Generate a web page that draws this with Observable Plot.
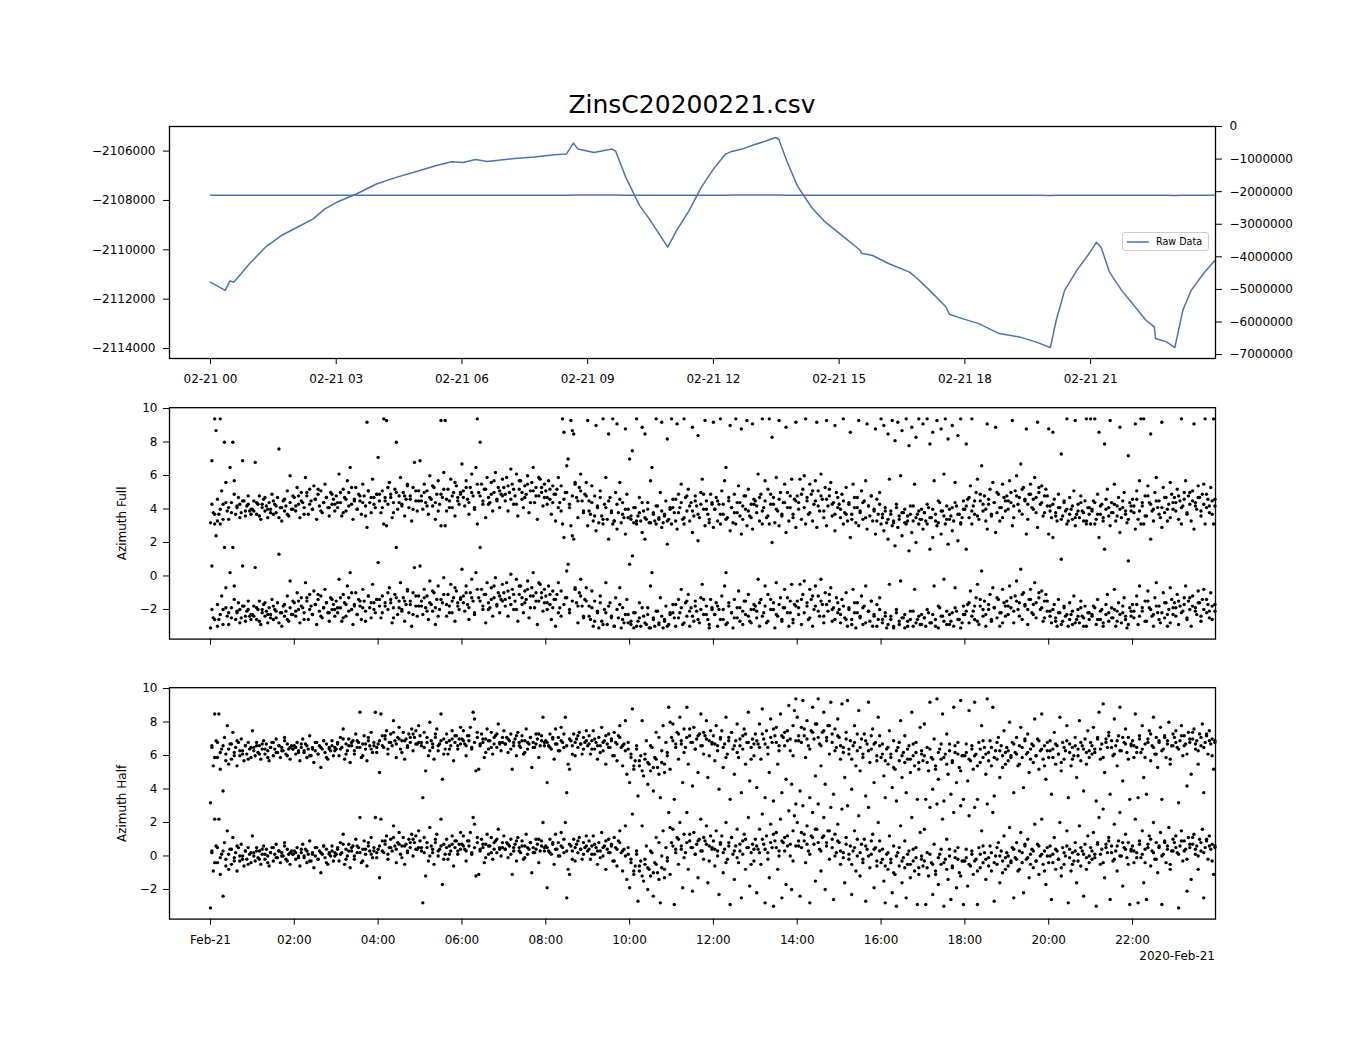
<!DOCTYPE html>
<html><head><meta charset="utf-8">
<script src="https://cdn.jsdelivr.net/npm/d3@7"></script>
<script src="https://cdn.jsdelivr.net/npm/@observablehq/plot@0.6"></script>
<style>
body{margin:0;background:#fff;font-family:"DejaVu Sans",sans-serif;color:#000;}
#wrap{position:relative;width:1350px;height:1050px;overflow:hidden;}
.abs{position:absolute;}
</style></head><body><div id="wrap"></div>
<script>
// ---------- data ----------
const titleText = "ZinsC20200221.csv";
const rawHours = [0,0.35,0.46,0.56,0.93,1.31,1.69,2.07,2.45,2.73,3.01,3.48,3.96,4.43,4.90,5.37,5.75,6.03,6.32,6.60,7.26,7.73,8.21,8.49,8.66,8.77,9.15,9.58,9.67,9.91,10.24,10.47,10.91,11.12,11.42,11.71,12.0,12.29,12.44,12.68,12.97,13.27,13.48,13.56,13.75,14.0,14.34,14.63,15.02,15.51,15.53,15.80,16.19,16.68,16.87,17.16,17.55,17.63,17.94,18.33,18.82,19.30,19.69,20.04,20.18,20.38,20.67,20.96,21.14,21.25,21.45,21.74,22.03,22.32,22.52,22.55,22.81,23.01,23.20,23.40,23.69,23.98];
const rawValues = [-2111306,-2111643,-2111266,-2111306,-2110566,-2109892,-2109421,-2109084,-2108747,-2108343,-2108074,-2107737,-2107333,-2107064,-2106835,-2106593,-2106431,-2106458,-2106337,-2106418,-2106296,-2106242,-2106148,-2106121,-2105677,-2105919,-2106054,-2105919,-2106013,-2107064,-2108209,-2108747,-2109892,-2109219,-2108411,-2107468,-2106727,-2106121,-2106013,-2105919,-2105744,-2105582,-2105448,-2105520,-2106391,-2107400,-2108276,-2108815,-2109354,-2110027,-2110135,-2110229,-2110566,-2110902,-2111172,-2111643,-2112316,-2112613,-2112788,-2112990,-2113394,-2113529,-2113731,-2113960,-2112855,-2111643,-2110835,-2110162,-2109690,-2109892,-2110902,-2111643,-2112249,-2112855,-2113125,-2113596,-2113731,-2113960,-2112451,-2111643,-2110970,-2110400];

// Azimuth Full: wrapped angle per hour (shown at b and b + 2π)
const fullByHour = [
[-3.1,0.6,-2.5,3.1,2.4,-3.0,-2.6,3.1,-1.2,-2.0,1.7,-0.7,-2.4,-2.9,0.2,-1.9,1.7,-0.6,-2.6,-2.2,-1.6,-2.0,-2.5,0.6,-1.8,-2.7,-2.1,-1.5,-2.4,-2.3],
[-2.3,-1.8,0.5,-2.6,-2.0,-1.5,-2.9,-2.2,-1.7,-2.4,-2.1,-2.8,-1.9,-2.3,-1.4,-2.6,-2.0,-2.5,-1.6,1.3,-2.2,-3.0,-1.8,-2.4,-2.1,-1.2,-2.7,-0.3,-2.3,-1.5],
[-1.6,-2.4,-1.0,-2.0,-2.8,-1.3,-1.9,-2.2,-0.4,-1.5,-2.6,-1.1,-1.8,-2.3,-0.9,-1.7,-2.9,-1.4,-2.1,-1.2,-2.5,-1.9,-0.8,-1.6,-2.2,-2.7,-1.3,-2.0,-1.7,-2.4],
[-1.5,-2.2,-0.2,-1.9,-2.7,-1.1,-1.6,-2.4,-0.6,-1.3,0.2,-2.0,-2.9,-1.7,-1.0,-2.3,-1.4,-1.8,-2.6,-0.8,-1.5,-2.1,2.9,-1.2,-1.9,-2.5,-0.5,-1.6,-2.2,-1.4],
[0.8,-1.8,-2.5,-1.2,3.1,-1.6,3.0,-2.0,-0.7,-1.4,-2.8,-1.9,-1.1,1.7,-2.3,-1.5,-0.4,-2.0,-1.3,-2.7,-1.7,-0.9,-2.2,-1.5,-3.0,-1.0,0.5,-1.8,-2.4,-1.2],
[0.6,-1.5,-2.3,-0.8,-1.9,-1.2,-2.6,-0.3,-1.7,-2.1,-1.0,-2.9,-1.4,-0.6,-2.0,3.0,-1.6,-0.1,3.0,-2.4,-1.1,-1.8,-0.5,-2.2,-1.3,-2.7,-0.9,-1.6,-2.0,-1.4],
[0.4,-1.2,-2.1,-0.6,-1.7,-2.6,-1.0,-0.2,-1.5,-2.3,0.2,3.1,-1.3,1.7,-0.8,-2.0,-1.1,-2.8,-0.4,-1.6,-1.9,-0.7,-2.4,-1.3,-0.1,-1.8,-1.0,-2.2,-1.4,-0.5],
[-1.0,-1.8,-0.4,-2.4,-1.3,0.1,-0.8,-2.0,-1.5,-0.2,-2.7,-1.1,-0.6,-1.7,-2.2,-0.9,-1.4,-0.3,-2.5,-1.2,-0.7,0.2,-1.9,-1.0,-2.9,-1.5,-0.5,-1.3,-2.1,-0.8],
[-1.2,-2.0,-0.6,-1.7,-2.6,-0.9,-1.4,-3.0,-1.1,-0.4,-1.9,-2.4,3.1,2.3,-1.3,0.3,0.7,-2.2,3.0,2.4,2.2,-0.8,-1.6,-2.8,-1.0,-0.2,-1.8,-2.5,-1.4,-0.7],
[3.0,-1.8,-2.6,-0.9,-3.0,-1.5,2.7,-2.2,-3.1,-1.2,-2.7,3.1,-2.0,-0.4,-2.9,2.2,-1.6,-2.4,3.1,-3.0,-1.3,2.8,-2.5,-0.7,-3.1,-1.9,-2.8,2.5,-1.4,-2.3],
[0.7,-2.9,1.2,-3.1,-2.2,3.1,-2.7,-1.6,-3.0,2.6,-2.4,2.2,-2.9,-1.9,-3.1,-0.6,0.2,-2.5,-3.0,3.1,-2.1,-2.8,-1.3,2.9,-3.1,-2.6,-1.8,1.9,-2.9,-2.3],
[3.1,-1.7,-2.5,-3.0,2.8,-1.4,-2.2,-0.8,-2.9,3.1,-1.6,-2.4,-1.1,-3.0,-1.9,2.6,-2.7,-1.5,-2.1,2.1,-2.8,-1.3,-0.5,-2.3,3.0,-1.8,-2.6,-3.1,-1.4,-2.0],
[2.9,-2.3,-1.6,-3.0,-2.0,3.1,-1.2,-2.6,-0.6,0.2,-2.8,-1.8,2.7,-2.2,-3.1,-1.4,3.1,-2.5,-0.9,-1.9,2.5,-2.9,-1.5,-2.3,3.0,-1.1,-2.7,-2.0,2.8,-1.7],
[-1.8,-2.5,-0.2,-3.0,-1.4,3.1,-2.2,-0.6,-2.8,-1.1,3.1,-2.0,2.0,-1.6,-3.1,-0.4,-2.4,3.0,-1.3,-2.7,-1.9,-0.8,2.6,-2.2,-3.0,-1.5,-0.5,-2.6,-1.7,2.9],
[-1.5,-2.3,-0.5,-2.9,-1.1,-0.3,3.1,-1.8,-2.6,-0.8,-1.4,-3.0,-2.0,-0.6,2.9,-1.2,-2.4,-0.2,-1.7,-2.8,-1.0,3.0,-2.1,-1.5,-0.7,-2.7,-1.9,2.7,-1.3,-2.2],
[-2.0,-2.8,-1.4,3.1,-2.5,-1.0,-3.0,-1.9,2.3,-2.6,-0.8,-2.2,-3.1,-1.6,3.0,-2.4,-1.2,-2.9,-1.8,-0.6,2.8,-2.1,-2.7,-1.5,-3.0,-2.3,2.5,-1.7,-2.6,-1.3],
[3.1,-2.8,2.7,-2.4,-3.1,2.2,-0.5,-2.6,3.0,-3.0,1.8,-2.2,2.9,-2.9,-0.3,2.4,-2.5,-3.1,3.1,-2.7,1.5,-2.1,2.6,-3.0,-0.8,2.0,-2.6,3.1,-2.9,-2.3],
[2.8,-2.5,-3.0,3.1,-2.2,1.6,-2.8,2.3,-0.6,-2.6,3.0,-3.1,-1.9,2.5,-2.4,-0.2,3.1,-2.9,1.9,-2.3,-2.7,2.7,-3.0,-0.7,-2.1,2.1,-2.6,3.1,-2.8,-1.8],
[-2.3,1.6,-1.7,-2.8,-0.9,3.1,-2.1,-2.6,-1.3,-0.5,-2.9,-1.8,0.3,-2.4,-1.5,-3.0,2.8,-2.0,-1.1,-2.7,-0.7,-1.9,2.6,-2.5,-1.4,-3.0,-2.2,-0.8,-1.6,-2.4],
[-1.5,-2.3,-0.6,-1.9,3.0,-2.8,-1.2,-0.3,-2.0,-1.6,0.4,-2.6,-1.0,-1.8,2.5,-2.9,-1.4,-0.8,-2.2,-1.7,-0.4,-2.5,2.9,-1.3,-2.0,-0.9,-2.7,-1.5,-1.1,-2.1],
[2.5,-2.1,-2.8,2.3,-1.7,-2.5,-3.0,-1.4,-2.2,1.0,-2.7,-1.9,-2.4,3.1,-3.0,-1.6,-2.3,-2.9,-1.2,3.0,-2.6,-2.0,-2.8,-1.5,-2.4,-3.0,-1.8,3.1,-2.2,-2.6],
[3.1,-2.4,-1.8,3.1,-2.9,-1.4,2.3,-2.6,-2.0,-3.0,1.6,-2.3,-1.1,-2.7,3.0,-1.9,-2.5,-0.8,-3.0,-2.1,-1.6,2.6,-2.8,-2.2,-1.3,-2.6,-3.1,0.9,-1.9,-2.4],
[-1.7,-2.5,2.8,-1.2,-2.9,-0.6,3.1,-2.1,3.1,-1.5,-2.7,-0.9,-1.9,2.2,-2.4,-3.0,-1.3,-0.4,-2.2,-1.8,-2.8,2.9,-1.0,-2.5,-1.6,-3.0,-2.0,-0.7,-1.4,-2.3],
[-1.6,-2.4,-1.1,-2.9,-1.8,3.1,-2.1,-1.3,-0.6,-2.6,-1.5,-2.0,-3.0,-1.2,2.8,-1.9,-2.3,-0.9,-1.6,-2.7,-1.4,-0.8,3.1,-2.2,-1.7,-2.5,-1.0,-1.8,3.1,-2.1]
];
// Azimuth Full: interleaved samples per hour (between the ones above)
const fullExtraByHour = [
[-2.0,-2.6,-1.7,-2.3,-2.9,-1.9,-2.2,-2.5,-1.4,-2.1,-2.8,-1.8,-2.4,-2.0,-2.6],
[-2.4,-1.9,-2.7,-2.0,-1.6,-2.3,-2.5,-1.8,-2.1,-2.8,-2.2,-1.7,-2.6,-1.9,-2.3],
[-2.1,-1.5,-1.8,-2.6,-1.3,-2.0,-2.3,-1.7,-1.1,-2.4,-1.9,-1.6,-2.2,-1.4,-2.0],
[-1.9,-1.3,-2.5,-1.7,-2.1,-1.0,-1.8,-2.3,-1.5,-1.9,-2.7,-1.2,-1.6,-2.0,-1.4],
[-1.4,-2.2,-1.8,-1.0,-1.6,-2.5,-1.3,-1.9,-2.1,-1.5,-0.8,-1.7,-2.3,-1.2,-1.8],
[-1.8,-1.3,-2.1,-1.6,-0.9,-1.9,-2.4,-1.4,-1.1,-1.7,-2.2,-1.5,-0.7,-1.8,-1.3],
[-1.6,-1.0,-1.9,-1.3,-2.2,-0.8,-1.5,-1.8,-1.1,-2.0,-1.4,-0.6,-1.7,-1.2,-1.5],
[-1.4,-0.9,-1.7,-1.1,-2.0,-0.6,-1.3,-1.6,-0.8,-1.9,-1.2,-1.5,-0.4,-1.0,-1.6],
[-1.6,-1.1,-1.9,-1.4,-2.2,-0.9,-1.7,-1.3,-2.0,-1.5,-0.7,-1.8,-1.2,-2.4,-1.5],
[-2.4,-1.9,-2.7,-2.1,-1.6,-2.9,-2.2,-1.8,-2.5,-3.0,-2.0,-1.7,-2.6,-2.3,-2.8],
[-2.7,-2.2,-3.0,-2.5,-1.9,-2.8,-2.3,-3.1,-2.6,-2.1,-2.9,-2.4,-2.7,-3.0,-2.2],
[-2.2,-1.7,-2.5,-1.9,-2.8,-1.5,-2.1,-2.4,-1.8,-2.6,-2.0,-1.4,-2.3,-2.9,-1.9],
[-2.3,-1.8,-2.6,-2.0,-2.9,-1.6,-2.2,-2.5,-1.9,-2.7,-2.1,-1.5,-2.4,-2.8,-2.0],
[-2.1,-1.6,-2.4,-1.8,-2.7,-1.4,-2.0,-2.3,-1.7,-2.6,-1.9,-1.3,-2.2,-2.8,-1.8],
[-1.9,-1.4,-2.2,-1.6,-2.5,-1.2,-1.8,-2.1,-1.5,-2.4,-1.7,-1.1,-2.0,-2.6,-1.6],
[-2.3,-1.8,-2.6,-2.0,-2.9,-1.6,-2.2,-2.5,-1.9,-2.8,-2.1,-1.5,-2.4,-3.0,-2.0],
[-2.6,-2.2,-2.9,-2.4,-3.1,-2.0,-2.7,-2.5,-2.3,-3.0,-2.6,-2.1,-2.8,-2.4,-2.9],
[-2.5,-2.0,-2.8,-2.3,-3.0,-1.8,-2.4,-2.7,-2.1,-2.9,-2.2,-1.9,-2.6,-3.1,-2.3],
[-2.1,-1.6,-2.4,-1.8,-2.7,-1.4,-2.0,-2.3,-1.7,-2.6,-1.9,-1.3,-2.2,-2.8,-1.8],
[-1.8,-1.3,-2.1,-1.5,-2.4,-1.1,-1.7,-2.0,-1.4,-2.3,-1.6,-1.0,-1.9,-2.5,-1.5],
[-2.4,-2.0,-2.7,-2.2,-2.9,-1.8,-2.3,-2.6,-2.1,-2.8,-2.4,-1.9,-2.5,-3.0,-2.2],
[-2.3,-1.9,-2.6,-2.1,-2.8,-1.7,-2.2,-2.5,-2.0,-2.7,-2.3,-1.8,-2.4,-2.9,-2.1],
[-2.1,-1.7,-2.4,-1.9,-2.7,-1.5,-2.0,-2.3,-1.8,-2.6,-2.2,-1.6,-2.3,-2.8,-1.9],
[-1.9,-1.5,-2.2,-1.7,-2.5,-1.3,-1.8,-2.1,-1.6,-2.4,-2.0,-1.4,-2.1,-2.6,-1.7]
];

// Azimuth Half: wrapped angle per hour (shown at b and b + 2π)
const halfByHour = [
[-3.1,0.3,-0.9,2.2,0.6,-0.4,2.2,-1.1,0.1,-2.4,0.8,-0.2,1.5,-0.8,0.4,-0.5,1.1,-0.1,0.2,-0.9,0.5,-0.3,0.7,0.0,-0.6,0.3,-0.2,0.5,0.1,-0.4],
[1.2,0.2,-0.3,0.5,-0.1,0.3,-0.5,0.1,0.6,-0.2,0.4,0.0,-0.6,0.2,0.5,-0.3,0.1,0.7,-0.1,0.3,-0.4,0.2,0.0,0.8,-0.2,0.4,0.1,-0.5,0.3,0.1],
[0.3,-0.2,0.5,0.0,-0.6,0.2,0.7,-0.1,0.4,-0.4,0.1,0.9,-0.3,0.2,-0.7,0.0,0.5,-0.2,0.3,-1.0,0.1,0.6,-0.1,0.4,-0.5,0.2,0.0,0.6,-0.3,0.2],
[0.1,0.5,-0.3,0.8,0.2,1.3,-0.5,0.4,0.0,0.7,-0.7,0.3,0.6,-0.2,1.0,0.2,0.5,2.3,-0.4,0.4,0.9,0.1,-0.6,0.6,0.3,1.1,-0.1,0.5,2.3,0.2],
[0.4,-1.3,2.2,0.9,0.2,0.7,1.2,-0.2,0.5,1.0,0.3,1.8,0.6,-0.4,0.8,1.4,0.1,0.6,1.1,-0.5,0.7,0.3,1.0,0.5,1.3,0.0,0.8,1.2,0.4,1.5],
[0.9,0.3,-2.8,1.1,-1.2,0.5,-0.3,1.7,0.6,0.2,-0.5,0.8,1.3,0.0,0.4,2.2,-1.7,0.7,0.1,1.0,-0.2,0.6,0.3,1.2,-0.6,0.5,0.9,0.1,0.7,1.4],
[0.7,1.2,0.4,-0.3,0.9,0.6,1.4,0.2,2.3,1.9,-1.2,0.8,-1.1,0.3,1.0,0.5,-0.4,0.7,1.3,0.1,0.6,1.1,-0.2,0.4,0.9,0.2,1.6,0.5,0.0,0.8],
[1.2,0.4,0.8,-0.1,0.6,1.0,-1.1,0.3,0.7,-0.3,1.1,0.5,0.2,0.9,-0.2,0.6,1.3,0.1,0.4,0.8,-1.0,0.5,0.2,1.0,0.7,-0.4,0.3,0.9,2.0,0.5],
[0.6,-1.9,0.3,1.0,0.1,0.7,-0.5,1.3,0.4,0.8,0.0,1.4,0.5,0.2,2.0,-2.5,-0.8,-1.1,0.6,0.3,1.0,-0.3,0.7,0.2,1.1,0.4,-0.2,0.8,0.5,1.2],
[0.3,0.9,-0.2,0.6,1.2,0.1,0.5,-0.5,0.8,0.3,1.4,0.0,0.6,-0.8,0.4,1.0,0.2,0.7,-0.3,1.1,0.5,-0.6,0.9,1.5,0.2,-0.9,0.4,1.8,-1.4,0.1],
[-1.9,-0.2,2.5,-1.1,-0.6,0.3,-2.7,-0.9,-0.3,1.8,-1.5,-0.5,0.6,-2.0,-0.8,-1.2,0.2,-2.4,-0.4,1.1,-1.0,0.8,-2.8,-0.7,1.5,-1.3,0.5,-0.1,2.6,1.7],
[0.8,1.6,-2.9,0.4,1.1,-0.5,2.0,0.6,-1.9,1.3,0.2,2.6,-0.8,0.9,0.5,-2.1,1.4,0.1,0.7,-1.3,1.0,2.2,0.3,-0.2,0.9,1.8,-1.6,0.6,1.2,0.4],
[0.9,-0.6,1.5,0.3,-2.3,0.7,1.2,-1.0,0.4,2.0,-0.2,0.8,-2.9,1.1,0.1,-1.4,0.6,1.6,-0.4,0.3,-2.5,0.9,1.3,-0.8,0.5,2.3,-1.8,0.2,0.7,-0.3],
[1.0,-2.2,0.4,1.6,-0.5,2.5,0.7,-2.8,1.2,0.2,-1.3,1.9,0.5,-3.0,0.9,1.4,-0.8,0.3,2.2,-2.5,0.8,1.1,-1.7,0.6,2.7,0.0,-2.0,1.5,2.4,3.1],
[2.0,0.6,-2.4,1.4,3.0,0.9,-0.4,1.8,0.3,-2.8,1.2,2.6,0.7,-1.5,1.6,3.1,0.4,-0.9,1.1,2.3,-2.0,0.8,1.5,-0.2,2.9,0.5,-2.6,1.3,0.2,1.9],
[0.8,-0.5,2.8,0.2,-1.6,1.1,3.0,-0.2,0.6,-2.3,0.3,1.5,-0.9,0.0,2.4,-1.2,0.7,-0.4,1.0,-2.7,0.4,2.9,-0.7,0.1,1.3,-1.9,0.5,-0.3,2.0,0.9],
[-0.4,0.4,-1.5,-2.8,0.1,-0.8,1.2,-0.2,-2.2,0.6,-1.1,-3.0,0.2,-0.6,1.8,-1.6,-0.1,0.9,-2.5,-0.5,0.3,-1.3,2.3,-0.3,-0.9,0.5,-2.9,-0.7,1.4,0.0],
[-0.6,1.6,-2.9,0.2,-1.2,2.9,-0.4,-2.3,0.7,-0.9,3.1,-1.7,0.1,-0.5,2.2,-3.0,-0.2,1.0,-1.4,0.4,-2.6,-0.7,2.6,-0.1,-1.9,0.5,-1.0,3.0,-0.3,-2.9],
[-0.3,0.4,-1.8,2.4,-0.6,0.1,-1.1,2.9,-0.2,-2.9,0.5,-0.7,1.5,-0.4,0.2,-1.4,3.1,-0.1,0.6,-0.9,2.6,-2.7,0.0,-0.5,0.8,-1.6,0.3,-0.3,1.2,-0.8],
[0.2,-0.6,1.7,-0.3,0.5,-2.5,-0.1,0.8,-0.9,0.3,1.4,-0.4,-2.2,0.6,-0.2,1.0,-1.3,0.1,0.4,-0.7,1.9,-0.3,0.7,-1.1,0.0,2.2,-0.5,0.3,-1.7,0.5],
[-0.4,0.6,-2.6,0.1,1.1,-0.8,0.3,-0.2,2.0,-1.2,0.5,-0.5,0.0,1.5,-2.8,0.4,-0.9,0.2,-0.3,0.8,-1.6,0.1,1.8,-0.6,0.3,-2.4,0.7,-0.1,1.2,-0.4],
[0.5,-0.2,1.4,0.1,-3.0,0.8,2.3,-0.5,0.4,2.8,-1.3,0.7,0.2,1.1,-2.6,0.6,-0.3,1.9,0.3,-0.9,0.9,2.6,0.0,-1.8,0.5,1.3,-0.1,0.8,-2.9,0.4],
[0.6,-0.4,2.2,0.2,-2.8,0.9,-0.1,1.5,-1.6,0.4,-2.6,0.7,1.2,-0.6,0.3,2.0,-0.2,0.8,-1.0,0.5,1.4,-2.9,0.1,0.9,-0.4,0.6,1.7,-0.8,0.3,1.0],
[0.8,1.2,0.2,-3.1,0.6,1.5,-0.3,0.9,0.4,-2.1,1.1,0.5,-1.4,0.7,1.3,0.1,0.6,-0.8,1.0,0.3,1.6,-2.5,0.5,0.9,-0.2,1.2,0.4,0.7,-1.1,0.6]
];
// Azimuth Half: interleaved samples per hour
const halfExtraByHour = [
[0.2,-0.4,0.5,-0.1,0.3,-0.6,0.1,0.4,-0.3,0.6,0.0,-0.2,0.3,-0.5,0.2],
[0.0,0.3,-0.2,0.4,0.1,-0.4,0.2,0.5,-0.1,0.3,0.0,0.6,-0.3,0.2,0.1],
[0.2,-0.1,0.4,0.0,0.3,-0.3,0.1,0.5,-0.2,0.2,0.6,-0.4,0.1,0.3,0.0],
[0.4,0.1,0.7,-0.2,0.3,0.5,0.0,0.6,0.2,-0.3,0.4,0.8,0.1,0.3,-0.1],
[0.6,0.3,0.9,0.1,0.5,1.1,0.4,0.7,-0.1,0.6,0.2,0.8,1.0,0.4,0.5],
[0.5,0.2,0.8,0.0,0.4,1.0,0.3,0.6,-0.2,0.5,0.1,0.7,0.9,0.3,0.4],
[0.6,0.3,0.9,0.1,0.5,1.1,0.4,0.7,-0.1,0.6,0.2,0.8,1.0,0.4,0.5],
[0.4,0.7,0.1,0.5,0.9,0.3,0.6,-0.1,0.5,0.8,0.2,0.4,1.0,0.6,0.3],
[0.5,0.2,0.8,0.4,0.0,0.6,1.0,0.3,0.7,-0.2,0.5,0.9,0.4,0.1,0.6],
[0.4,0.1,0.7,0.3,-0.1,0.5,0.9,0.2,0.6,-0.3,0.4,0.8,0.3,0.0,0.5],
[-0.4,-0.9,0.1,-0.6,-1.2,-0.2,-0.7,0.3,-1.0,-0.5,-1.4,0.0,-0.8,-0.3,-1.1],
[0.6,0.2,1.0,0.4,-0.1,0.8,1.3,0.5,0.1,0.9,0.3,1.1,0.7,-0.3,0.5],
[0.4,0.0,0.8,0.2,-0.4,0.6,1.1,0.3,-0.1,0.7,0.1,1.0,0.5,-0.5,0.4],
[0.6,0.2,1.0,0.4,-0.2,0.8,1.3,0.5,0.0,0.9,0.3,1.2,0.7,-0.3,0.6],
[0.9,0.5,1.3,0.7,0.1,1.1,1.6,0.8,0.3,1.2,0.6,1.5,1.0,0.0,0.9],
[0.3,-0.1,0.7,0.1,-0.5,0.5,1.0,0.2,-0.2,0.6,0.0,0.9,0.4,-0.6,0.3],
[-0.2,-0.6,0.2,-0.4,-1.0,0.0,0.5,-0.3,-0.7,0.1,-0.5,0.4,-0.1,-1.1,-0.2],
[-0.3,-0.7,0.1,-0.5,-1.1,-0.1,0.4,-0.4,-0.8,0.0,-0.6,0.3,-0.2,-1.2,-0.3],
[-0.1,-0.5,0.3,-0.3,-0.9,0.1,0.6,-0.2,-0.6,0.2,-0.4,0.5,0.0,-1.0,-0.1],
[0.0,-0.4,0.4,-0.2,-0.8,0.2,0.7,-0.1,-0.5,0.3,-0.3,0.6,0.1,-0.9,0.0],
[0.0,-0.4,0.4,-0.2,-0.7,0.2,0.6,-0.1,-0.5,0.3,-0.3,0.5,0.1,-0.8,0.0],
[0.3,-0.1,0.7,0.1,-0.4,0.5,0.9,0.2,-0.2,0.6,0.0,0.8,0.4,-0.5,0.3],
[0.3,-0.1,0.7,0.1,-0.4,0.5,1.0,0.2,-0.2,0.6,0.0,0.8,0.4,-0.5,0.3],
[0.5,0.1,0.9,0.3,-0.2,0.7,1.1,0.4,0.0,0.8,0.2,1.0,0.6,-0.3,0.5]
];

const topLeftTicks = [-2114000,-2112000,-2110000,-2108000,-2106000];
const topRightTicks = [0,-1000000,-2000000,-3000000,-4000000,-5000000,-6000000,-7000000];
const topXTicks = [0,3,6,9,12,15,18,21];
const topXLabels = ["02-21 00","02-21 03","02-21 06","02-21 09","02-21 12","02-21 15","02-21 18","02-21 21"];
const botXTicks = [0,2,4,6,8,10,12,14,16,18,20,22];
const botXLabels = ["Feb-21","02:00","04:00","06:00","08:00","10:00","12:00","14:00","16:00","18:00","20:00","22:00"];
const azTicks = [-2,0,2,4,6,8,10];
const xDomain = [-0.978, 23.98];
const leftDomain = [-2114404, -2105003];
const rightDomain = [-7120000, 0];
const azDomain = [-3.77, 10.05];
const lineColor = "#4c72b0";

// ---------- build ----------
const wrap = document.getElementById("wrap");
const fmtNeg = d => (d < 0 ? "\u2212" : "") + Math.abs(Math.round(d));
const toLeft = d3.scaleLinear().domain(rightDomain).range(leftDomain);
const baseStyle = {fontFamily:"DejaVu Sans", fontSize:"12px", background:"transparent", color:"#000", overflow:"visible"};
const W = 1350, ML = 169, MR = 135;

function place(node, top) {
  node.classList.add("abs");
  node.style.left = "0px";
  node.style.top = top + "px";
  wrap.appendChild(node);
}

const rawData = rawHours.map((h, i) => ({h, v: rawValues[i]}));
const rawRight = rawHours.map((h, i) => ({h, v: toLeft(rawValues[i])}));

const topPlot = Plot.plot({
  width: W, height: 395, marginLeft: ML, marginRight: MR, marginTop: 126, marginBottom: 37,
  style: baseStyle,
  x: {domain: xDomain},
  y: {domain: leftDomain},
  marks: [
    Plot.axisX({ticks: topXTicks, tickFormat: d => topXLabels[topXTicks.indexOf(d)], tickSize: 6, tickPadding: 10, label: null}),
    Plot.axisY({ticks: topLeftTicks, tickFormat: fmtNeg, tickSize: 6, tickPadding: 8, label: null}),
    Plot.axisY({anchor: "right", ticks: topRightTicks.map(t => toLeft(t)),
      tickFormat: d => fmtNeg(toLeft.invert(d)), tickSize: 6, tickPadding: 8, label: null}),
    Plot.line(rawData, {x: "h", y: "v", stroke: lineColor, strokeWidth: 1.5}),
    Plot.line(rawRight, {x: "h", y: "v", stroke: lineColor, strokeWidth: 1.5}),
    Plot.frame({stroke: "#000", strokeWidth: 1.3})
  ]
});
place(topPlot, 0);

function scatterData(byHour, extraByHour) {
  const out = [];
  const add = (rows, offset) => rows.forEach((arr, h) => {
    arr.forEach((b, j) => {
      const t = h + (j + offset) / arr.length;
      out.push({t, v: b});
      out.push({t, v: b + 2 * Math.PI});
    });
  });
  add(byHour, 0);
  add(extraByHour, 0.5);
  return out;
}

function azPlot(data, label, height, mTop, mBottom, showLabels) {
  return Plot.plot({
    width: W, height, marginLeft: ML, marginRight: MR, marginTop: mTop, marginBottom: mBottom,
    style: baseStyle,
    x: {domain: xDomain},
    y: {domain: azDomain},
    marks: [
      Plot.axisX({ticks: botXTicks,
        tickFormat: showLabels ? (d => botXLabels[botXTicks.indexOf(d)]) : (() => ""),
        tickSize: 6, tickPadding: 10, label: null}),
      Plot.axisY({ticks: azTicks, tickFormat: d => fmtNeg(d), tickSize: 6, tickPadding: 6,
        label, labelAnchor: "center", labelArrow: "none", labelOffset: 52}),
      Plot.dot(data, {x: "t", y: "v", r: 1.7, fill: "#000", stroke: "none"}),
      Plot.frame({stroke: "#000", strokeWidth: 1.3})
    ]
  });
}

place(azPlot(scatterData(fullByHour, fullExtraByHour), "Azimuth Full", 260, 12.2, 16.4, false), 395);
place(azPlot(scatterData(halfByHour, halfExtraByHour), "Azimuth Half", 395, 32.2, 131.4, true), 655);

// title
const title = document.createElement("div");
title.className = "abs";
Object.assign(title.style, {left: ML + "px", width: (W - ML - MR) + "px", top: "89px", lineHeight: "32px",
  textAlign: "center", fontSize: "25px", fontFamily: "DejaVu Sans"});
title.textContent = titleText;
wrap.appendChild(title);

// legend
const legend = document.createElement("div");
legend.className = "abs";
Object.assign(legend.style, {left: "1122px", top: "232px", width: "85px", height: "17px",
  border: "1px solid #ccc", borderRadius: "3px", background: "rgba(255,255,255,0.8)",
  fontSize: "9.6px", fontFamily: "DejaVu Sans", display: "flex", alignItems: "center"});
legend.innerHTML = `<svg width="30" height="17" style="flex:none"><line x1="4" x2="26" y1="9" y2="9" stroke="${lineColor}" stroke-width="1.5"/></svg><span style="margin-left:3px">Raw Data</span>`;
wrap.appendChild(legend);

// date offset label
const dateLbl = document.createElement("div");
dateLbl.className = "abs";
Object.assign(dateLbl.style, {left: "900px", width: "315px", top: "948px", lineHeight: "16px",
  textAlign: "right", fontSize: "12px", fontFamily: "DejaVu Sans"});
dateLbl.textContent = "2020-Feb-21";
wrap.appendChild(dateLbl);
</script></body></html>
